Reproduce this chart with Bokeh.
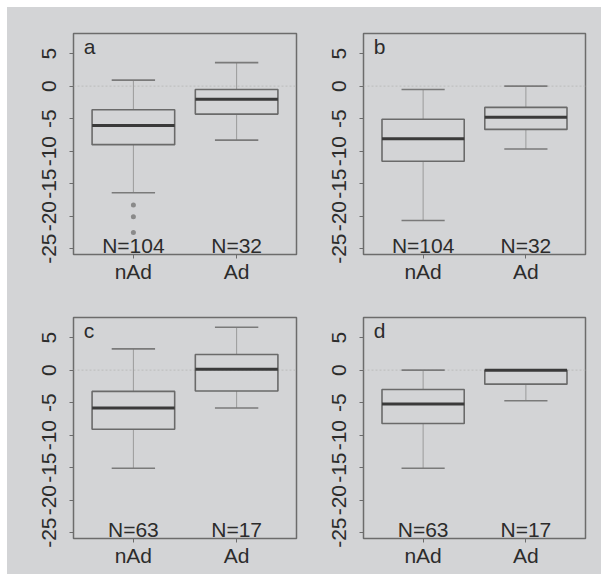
from bokeh.plotting import figure
from bokeh.layouts import column, row
from bokeh.models import FixedTicker, Span, Range1d, Spacer
from bokeh.embed import file_html
from bokeh.resources import INLINE
from bokeh.core.properties import value

# ---------------- data ----------------
categories = ["nAd", "Ad"]
cat_pos = [1, 2]
y_ticks = [-25, -20, -15, -10, -5, 0, 5]
y_tick_labels = ["-25", "-20", "-15", "-10", "-5", "0", "5"]

a_lower = [-16.4, -8.3]
a_q1 = [-9.0, -4.3]
a_median = [-6.04, -2.0]
a_q3 = [-3.63, -0.52]
a_upper = [0.92, 3.62]
a_outliers = [-18.3, -20.1, -22.5]
a_n = ["N=104", "N=32"]

b_lower = [-20.66, -9.67]
b_q1 = [-11.55, -6.65]
b_median = [-8.08, -4.8]
b_q3 = [-5.1, -3.27]
b_upper = [-0.51, 0.0]
b_outliers = []
b_n = ["N=104", "N=32"]

c_lower = [-15.1, -5.83]
c_q1 = [-9.1, -3.2]
c_median = [-5.83, 0.15]
c_q3 = [-3.27, 2.4]
c_upper = [3.27, 6.6]
c_outliers = []
c_n = ["N=63", "N=17"]

d_lower = [-15.1, -4.7]
d_q1 = [-8.2, -2.15]
d_median = [-5.2, 0.0]
d_q3 = [-2.97, 0.0]
d_upper = [0.0, 0.0]
d_outliers = []
d_n = ["N=63", "N=17"]

# ---------------- style ----------------
BG = "#d3d4d6"
FRAME = "#6c6c6c"
BOX = "#6a6a6a"
WHISK = "#9a9a9a"
CAP = "#7a7a7a"
MED = "#3a3a3a"
TXT = "#2c2c2c"
FONT = "Liberation Sans"
FS = "21px"
HALF_BOX = 0.4
HALF_CAP = 0.21
N_Y = -24.5
LABEL_X = 0.52
LABEL_Y = 6.1


def make_panel(label, lower, q1, med, q3, upper, outliers, ntext,
               width, height, bl, br, bt, bb):
    p = figure(width=width, height=height, output_backend="svg",
               toolbar_location=None,
               x_range=Range1d(0.42, 2.58), y_range=Range1d(-25.9, 8.1),
               min_border_left=bl, min_border_right=br,
               min_border_top=bt, min_border_bottom=bb)
    p.background_fill_color = BG
    p.border_fill_color = BG
    p.outline_line_color = FRAME
    p.outline_line_width = 1.5
    p.xgrid.visible = False
    p.ygrid.visible = False

    p.add_layout(Span(location=0, dimension="width", line_color="#bdbdbd",
                      line_dash="2 2", line_width=1, level="underlay"))

    xs = cat_pos
    # whiskers
    p.segment(x0=xs, y0=q3, x1=xs, y1=upper, line_color=WHISK, line_width=1)
    p.segment(x0=xs, y0=q1, x1=xs, y1=lower, line_color=WHISK, line_width=1)
    # caps
    p.segment(x0=[x - HALF_CAP for x in xs], x1=[x + HALF_CAP for x in xs],
              y0=upper, y1=upper, line_color=CAP, line_width=1.6)
    p.segment(x0=[x - HALF_CAP for x in xs], x1=[x + HALF_CAP for x in xs],
              y0=lower, y1=lower, line_color=CAP, line_width=1.6)
    # boxes
    p.quad(left=[x - HALF_BOX for x in xs], right=[x + HALF_BOX for x in xs],
           bottom=q1, top=q3, fill_color=None, line_color=BOX, line_width=1.6)
    # medians
    p.segment(x0=[x - HALF_BOX for x in xs], x1=[x + HALF_BOX for x in xs],
              y0=med, y1=med, line_color=MED, line_width=3)
    # outliers
    if outliers:
        p.scatter(x=[xs[0]] * len(outliers), y=outliers, size=5,
                  fill_color="#8a8a8a", line_color=None)
    # N labels
    p.text(x=xs, y=[N_Y, N_Y], text=ntext, text_align="center",
           text_baseline="alphabetic", text_font=value(FONT),
           text_font_size=FS, text_color=TXT)
    # panel label
    p.text(x=[LABEL_X], y=[LABEL_Y], text=[label], text_align="left",
           text_baseline="alphabetic", text_font=value(FONT),
           text_font_size=FS, text_color=TXT)

    # axes
    p.xaxis.ticker = FixedTicker(ticks=cat_pos)
    p.xaxis.major_label_overrides = {k: v for k, v in zip(cat_pos, categories)}
    p.yaxis.ticker = FixedTicker(ticks=y_ticks)
    p.yaxis.major_label_overrides = {k: v for k, v in zip(y_ticks, y_tick_labels)}
    p.yaxis.major_label_orientation = "vertical"
    for ax in (p.xaxis, p.yaxis):
        ax.axis_line_color = None
        ax.major_tick_in = 0
        ax.major_tick_out = 4
        ax.major_tick_line_color = FRAME
        ax.minor_tick_line_color = None
        ax.major_label_text_font = FONT
        ax.major_label_text_font_size = FS
        ax.major_label_text_color = TXT
    p.xaxis.major_label_standoff = 1
    p.yaxis.major_label_standoff = 13
    return p


pa = make_panel("a", a_lower, a_q1, a_median, a_q3, a_upper, a_outliers, a_n,
                293, 280, 66, 4, 26, 33)
pb = make_panel("b", b_lower, b_q1, b_median, b_q3, b_upper, b_outliers, b_n,
                301, 280, 63, 16, 26, 33)
pc = make_panel("c", c_lower, c_q1, c_median, c_q3, c_upper, c_outliers, c_n,
                293, 287, 66, 4, 30, 36)
pd = make_panel("d", d_lower, d_q1, d_median, d_q3, d_upper, d_outliers, d_n,
                301, 287, 63, 16, 30, 36)

grid = column(row(pa, pb, styles={"background-color": BG}),
              row(pc, pd, styles={"background-color": BG}),
              styles={"background-color": BG})
layout = column(Spacer(height=7), row(Spacer(width=7), grid))
open("out.html", "w").write(file_html(layout, INLINE))
